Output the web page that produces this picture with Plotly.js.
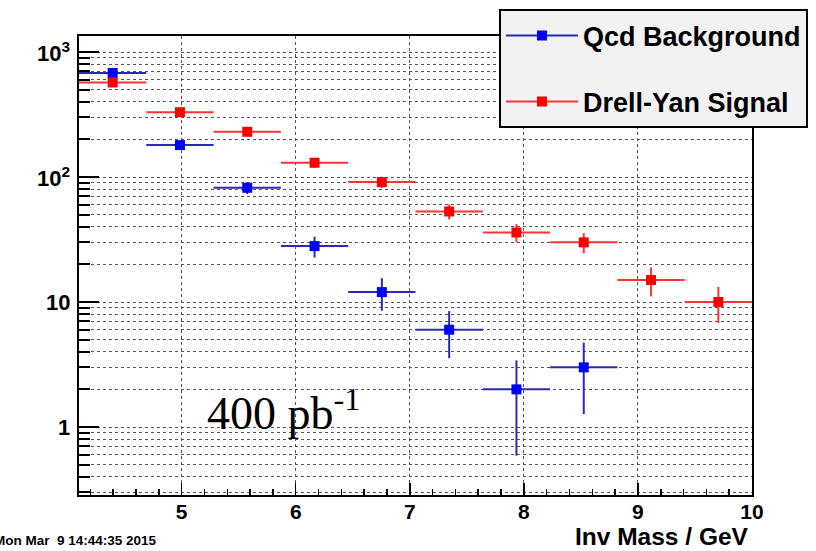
<!DOCTYPE html>
<html>
<head>
<meta charset="utf-8">
<script src="https://cdn.plot.ly/plotly-3.0.1.min.js"></script>
<style>html,body{margin:0;padding:0;background:#fff;}#chart{width:816px;height:551px;}</style>
</head>
<body>
<div id="chart"></div>
<script>
// Bin centres (Inv Mass / GeV), 10 bins of width 0.59 from 4.1 to 10
const binCenters = [4.395, 4.985, 5.575, 6.165, 6.755, 7.345, 7.935, 8.525, 9.115, 9.705];
const binHalfWidth = 0.295;

// Qcd Background (only first 8 bins populated)
const qcdX = [4.395, 4.985, 5.575, 6.165, 6.755, 7.345, 7.935, 8.525];
const qcdY = [680, 180, 82, 28, 12, 6, 2, 3];
const qcdErr = [26, 13.4, 9, 5.3, 3.5, 2.45, 1.41, 1.73];

// Drell-Yan Signal
const dyX = binCenters;
const dyY = [570, 330, 230, 130, 91, 53, 36, 30, 15, 10];
const dyErr = [23.9, 18.2, 15.2, 11.4, 9.5, 7.3, 6.0, 5.5, 3.9, 3.2];

// Axis labels
const yTickVals = [1, 10, 100, 1000];
const yTickText = ['1', '10', '10<sup>2</sup>', '10<sup>3</sup>'];
const yMinorVals = [0.3,0.4,0.5,0.6,0.7,0.8,0.9,2,3,4,5,6,7,8,9,20,30,40,50,60,70,80,90,200,300,400,500,600,700,800,900];
const xTickVals = [5, 6, 7, 8, 9, 10];
const xTitle = 'Inv Mass / GeV';
const lumiText = '400 pb<sup>-1</sup>';
const dateText = 'Mon Mar\u00a0\u00a09 14:44:35 2015';
const seriesNames = ['Qcd Background', 'Drell-Yan Signal'];

const blue = '#0000ff', blueLine = '#2a2ab4';
const red = '#ff0000', redLine = '#ff3434';
const sans = 'Liberation Sans, Arial, sans-serif';

function dataTrace(x, y, err, mc, lc) {
  return {
    x: x, y: y, type: 'scatter', mode: 'markers', showlegend: false,
    marker: {symbol: 'square', size: 10, color: mc},
    error_y: {type: 'data', array: err, symmetric: true, color: lc, thickness: 2, width: 0},
    error_x: {type: 'constant', value: binHalfWidth, color: lc, thickness: 2, width: 0},
    hoverinfo: 'x+y'
  };
}
function legendTrace(name, mc, lc, grp) {
  return {
    x: [null], y: [null], type: 'scatter', mode: 'lines+markers', name: name,
    legendgroup: grp,
    line: {color: lc, width: 2},
    marker: {symbol: 'square', size: 10, color: mc}
  };
}

const data = [
  dataTrace(qcdX, qcdY, qcdErr, blue, blueLine),
  dataTrace(dyX, dyY, dyErr, red, redLine),
  legendTrace(seriesNames[0], blue, blueLine, 'a'),
  legendTrace(seriesNames[1], red, redLine, 'b')
];

const gridDot = {gridcolor: '#555', griddash: 'dot', gridwidth: 1};

// y tick labels drawn as annotations on the y scale (ROOT-style placement)
const yLabelAnns = yTickVals.map((v, i) => ({
  text: yTickText[i], xref: 'paper', yref: 'y', x: (72 - 79) / 673, y: Math.log10(v),
  xanchor: 'right', yanchor: 'middle', showarrow: false,
  font: {family: sans, size: 22, color: '#000', weight: 'bold'}
}));

const layout = {
  width: 816, height: 551,
  margin: {l: 79, r: 64, t: 36, b: 56, autoexpand: false},
  paper_bgcolor: '#fff', plot_bgcolor: '#fff',
  showlegend: true,
  legend: {
    x: 0.624, y: 1.058, xanchor: 'left', yanchor: 'top',
    bgcolor: '#f2f2f2', bordercolor: '#000', borderwidth: 2,
    font: {family: sans, size: 27, color: '#000', weight: 'bold'},
    traceorder: 'grouped', tracegroupgap: 28, itemwidth: 72
  },
  xaxis: {
    range: [4.1, 10], tickmode: 'array', tickvals: xTickVals,
    ticks: 'inside', ticklen: 12, tickwidth: 1.5, tickcolor: '#000',
    showline: true, linecolor: '#000', linewidth: 2, mirror: true,
    showgrid: true, ...gridDot, zeroline: false,
    ticklabelstandoff: -3,
    tickfont: {family: sans, size: 21, color: '#000', weight: 'bold'},
    minor: {dtick: 0.2, ticks: 'inside', ticklen: 6, tickcolor: '#000', showgrid: false}
  },
  yaxis: {
    type: 'log', range: [-0.544, 3.128], tickmode: 'array',
    tickvals: yTickVals, showticklabels: false,
    ticks: 'inside', ticklen: 20, tickwidth: 2, tickcolor: '#000',
    showline: true, linecolor: '#000', linewidth: 2, mirror: true,
    showgrid: true, ...gridDot, zeroline: false,
    minor: {tickmode: 'array', tickvals: yMinorVals, ticks: 'inside', ticklen: 11, tickcolor: '#000',
            showgrid: true, gridcolor: '#555', griddash: 'dot', gridwidth: 1}
  },
  annotations: [
    ...yLabelAnns,
    {text: lumiText, xref: 'paper', yref: 'paper', x: (205-79)/673, y: (495-410)/459,
     xanchor: 'left', yanchor: 'middle', showarrow: false,
     font: {family: 'Liberation Serif, Times New Roman, serif', size: 46, color: '#000'}},
    {text: xTitle, xref: 'paper', yref: 'paper', x: (751-79)/673, y: -(536-495)/459,
     xanchor: 'right', yanchor: 'middle', showarrow: false,
     font: {family: sans, size: 24.5, color: '#000', weight: 'bold'}},
    {text: dateText, xref: 'paper', yref: 'paper', x: (-8-79)/673, y: -(540-495)/459,
     xanchor: 'left', yanchor: 'middle', showarrow: false,
     font: {family: sans, size: 13.5, color: '#000', weight: 'bold'}}
  ]
};

Plotly.newPlot('chart', data, layout, {displayModeBar: false, staticPlot: true});
</script>
</body>
</html>
